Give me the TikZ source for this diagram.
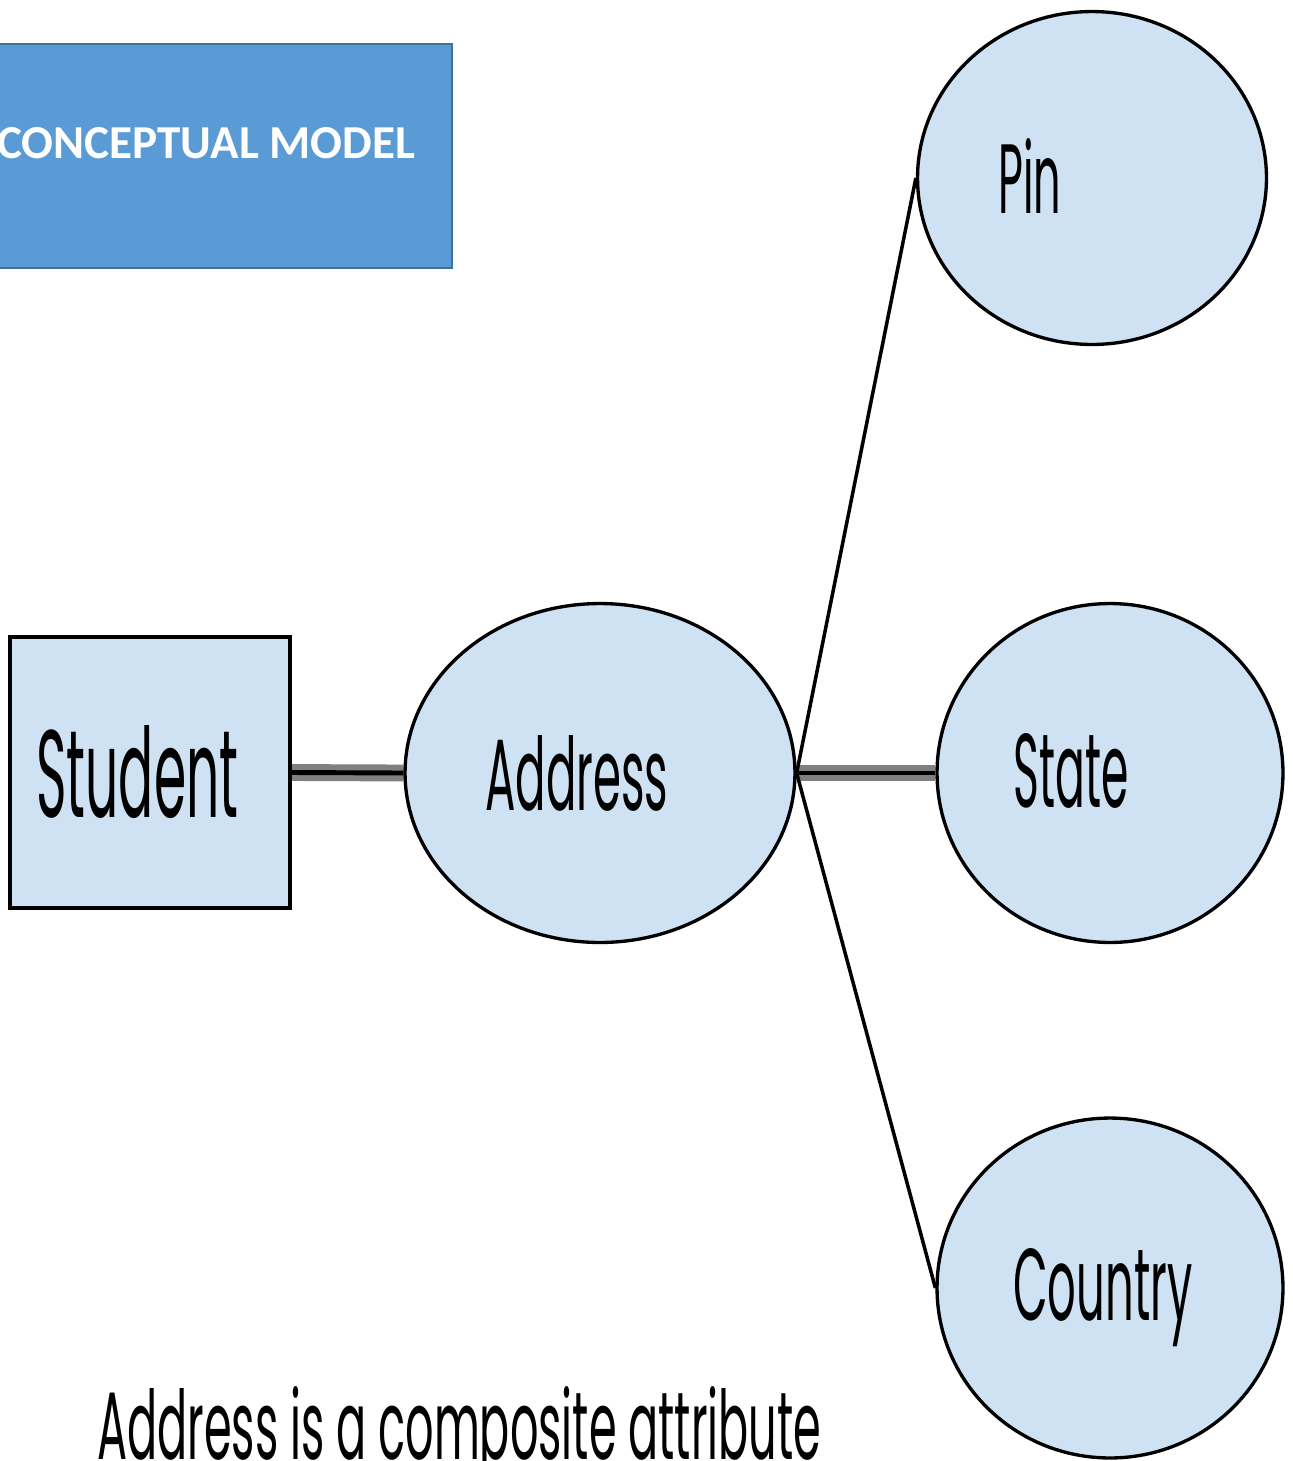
\documentclass[tikz,border=0pt]{standalone}
\usepackage{fontspec}
\setmainfont{Poppins}
\newfontfamily\carl{Carlito}
\usetikzlibrary{shapes.geometric,backgrounds}
\definecolor{hdrfill}{HTML}{5B9BD5}
\definecolor{hdrline}{HTML}{41719C}
\definecolor{entfill}{HTML}{CFE2F3}
\definecolor{linkgray}{HTML}{808080}
\newcommand\fitbox[3]{\resizebox{#1}{#2}{#3}}
\begin{document}
\begin{tikzpicture}[x=0.02cm,y=-0.02cm,
  attr/.style={ellipse, draw=black, line width=1.9pt, fill=entfill, inner sep=0pt},
  entity/.style={rectangle, draw=black, line width=2.1pt, fill=entfill, inner sep=0pt},
  hdrbox/.style={rectangle, draw=hdrline, line width=1.1pt, fill=hdrfill, inner sep=0pt},
  lbl/.style={inner sep=0pt, anchor=base west, font=\fontsize{60}{60}\selectfont},
  link/.style={line width=9.6pt, draw=linkgray},
  linkcore/.style={line width=2.8pt, draw=black},
  spoke/.style={line width=2pt, draw=black}]
\useasboundingbox (0,0) rectangle (1292,1461);
% header box
\node[hdrbox, anchor=north west, minimum width=9.22cm, minimum height=4.48cm] (hdr) at (-10,43) {};
\node[inner sep=0pt, anchor=base west, text=white, font=\carl\bfseries\fontsize{28}{28}\selectfont] (hdrtxt) at (-3,158) {\fitbox{8.36cm}{0.62cm}{CONCEPTUAL MODEL}};
% entity
\node[entity, minimum width=5.6cm, minimum height=5.42cm] (stu) at (150,772.5) {};
\node[lbl] (stutxt) at (36,817) {\fitbox{4.04cm}{1.84cm}{Student}};
% attributes
\node[attr, minimum width=7.8cm, minimum height=6.78cm] (addr) at (600,773) {};
\node[lbl] (addrtxt) at (485,810) {\fitbox{3.66cm}{1.5cm}{Address}};
\node[attr, minimum width=6.98cm, minimum height=6.66cm] (pin) at (1092,178) {};
\node[lbl] (pintxt) at (998,213) {\fitbox{1.26cm}{1.5cm}{Pin}};
\node[attr, minimum width=6.92cm, minimum height=6.78cm] (state) at (1110,773) {};
\node[lbl] (statetxt) at (1013,807) {\fitbox{2.3cm}{1.48cm}{State}};
\node[attr, minimum width=6.92cm, minimum height=6.8cm] (ctry) at (1110,1288) {};
\node[lbl] (ctrytxt) at (1013,1320) {\fitbox{3.58cm}{1.44cm}{Country}};
% caption
\node[lbl] (cap) at (97,1459) {\fitbox{14.48cm}{1.46cm}{Address is a composite attribute}};
% connectors
\begin{pgfonlayer}{background}
\draw[link] (stu.east) -- (addr.west);
\draw[linkcore] (stu.east) -- (addr.west);
\draw[link] (addr.east) -- (state.west);
\draw[linkcore] (addr.east) -- (state.west);
\draw[spoke] (addr.east) -- (pin.west);
\draw[spoke] (addr.east) -- (ctry.west);
\end{pgfonlayer}
\end{tikzpicture}
\end{document}
